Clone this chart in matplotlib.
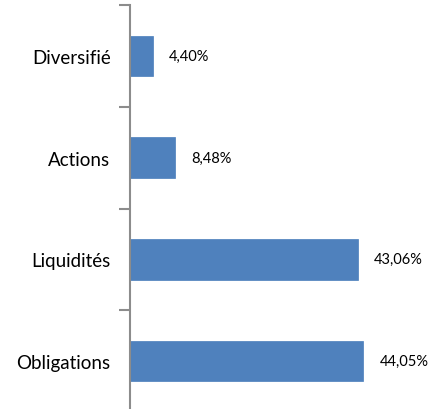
import matplotlib
matplotlib.use("Agg")
import matplotlib.pyplot as plt
import numpy as np

# categories from bottom to top
categories = ["Obligations", "Liquidités", "Actions", "Diversifié"]
values = [44.05, 43.06, 8.48, 4.40]
labels = ["44,05%", "43,06%", "8,48%", "4,40%"]

plt.rcParams["font.family"] = ["Lato", "DejaVu Sans"]

fig = plt.figure(figsize=(4.36, 4.10), dpi=100)
ax = fig.add_axes([130 / 436, -3 / 410, 265 / 436, 407 / 410])

y = np.arange(len(categories))
ax.barh(y, values, height=0.4, color="#4F81BD", edgecolor="#4A7EBB", linewidth=0.5)

for yi, v, lab in zip(y, values, labels):
    ax.text(v + 3.0, yi, lab, va="center", ha="left", fontsize=10.5, color="black")

ax.set_xlim(0, 50)
ax.set_ylim(-0.5, len(categories) - 0.5)

# tick marks between categories, labels at centres
ax.set_yticks(np.arange(-0.5, len(categories), 1.0))
ax.set_yticklabels([])
ax.set_yticks(y, minor=True)
ax.set_yticklabels(categories, minor=True, fontsize=13.5)
ax.tick_params(axis="y", which="major", length=8, width=1.5, color="#8c8c8c", direction="out")
ax.tick_params(axis="y", which="minor", length=0, pad=14)

ax.set_xticks([])
for s in ["top", "right", "bottom"]:
    ax.spines[s].set_visible(False)
ax.spines["left"].set_color("#8c8c8c")
ax.spines["left"].set_linewidth(1.5)

fig.savefig("out.png", dpi=100)
